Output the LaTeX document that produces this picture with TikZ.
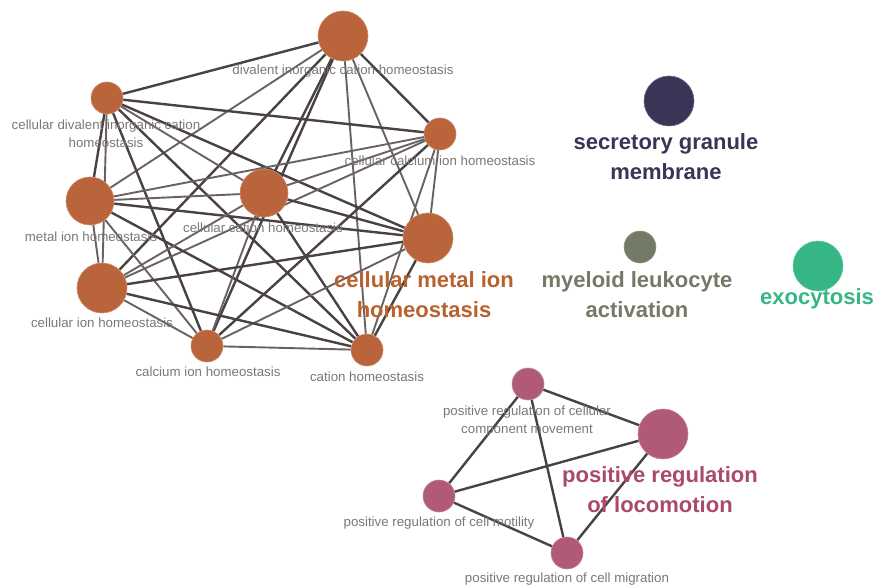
\documentclass[tikz,border=0pt]{standalone}
\usepackage{fontspec}
\setmainfont{Liberation Sans}
\usetikzlibrary{backgrounds}
\definecolor{orangeN}{HTML}{B9643A}
\definecolor{orangeT}{HTML}{B8622F}
\definecolor{navyN}{HTML}{3A3457}
\definecolor{olivN}{HTML}{737B66}
\definecolor{greenN}{HTML}{37B685}
\definecolor{pinkN}{HTML}{B05A76}
\definecolor{pinkT}{HTML}{A94A6C}
\definecolor{smallT}{HTML}{7C7777}
\definecolor{edgeDk}{HTML}{4A4242}
\definecolor{edgeLt}{HTML}{6A6262}
\tikzset{
  dot/.style={circle, inner sep=0pt, line width=0.6pt},
  big/.style={dot, minimum size=50pt},
  sml/.style={dot, minimum size=32pt},
  mid/.style={dot, minimum size=48pt},
  smalllbl/.style={text=smallT, font=\fontsize{13.3}{18}\selectfont, align=center, inner sep=0pt},
  biglbl/.style={font=\fontsize{22}{30}\selectfont\bfseries, align=center, inner sep=0pt},
  ed/.style={draw=edgeDk, line width=2.4pt},
  el/.style={draw=edgeLt, line width=1.9pt},
}
\begin{document}
\begin{tikzpicture}[x=1pt,y=-1pt]
\useasboundingbox (0,0) rectangle (878,585);
% nodes
\node[big, fill=orangeN, draw=orangeN!75!white] (A) at (343,36) {};
\node[sml, fill=orangeN, draw=orangeN!75!white] (B) at (107,98) {};
\node[sml, fill=orangeN, draw=orangeN!75!white] (C) at (440,134) {};
\node[mid, fill=orangeN, draw=orangeN!75!white] (D) at (90,201) {};
\node[mid, fill=orangeN, draw=orangeN!75!white] (E) at (264,193) {};
\node[big, fill=orangeN, draw=orangeN!75!white] (F) at (428,238) {};
\node[big, fill=orangeN, draw=orangeN!75!white] (G) at (102,288) {};
\node[sml, fill=orangeN, draw=orangeN!75!white] (H) at (207,346) {};
\node[sml, fill=orangeN, draw=orangeN!75!white] (I) at (367,350) {};
\node[big, fill=navyN, draw=navyN!75!white] (S) at (669,101) {};
\node[sml, fill=olivN, draw=olivN!75!white] (M) at (640,247) {};
\node[big, fill=greenN, draw=greenN!75!white] (X) at (818,266) {};
\node[sml, fill=pinkN, draw=pinkN!75!white] (P1) at (528,384) {};
\node[big, fill=pinkN, draw=pinkN!75!white] (P2) at (663,434) {};
\node[sml, fill=pinkN, draw=pinkN!75!white] (P3) at (439,496) {};
\node[sml, fill=pinkN, draw=pinkN!75!white] (P4) at (567,553) {};
\begin{pgfonlayer}{background}
% edges orange
\draw[ed] (A) -- (B);
\draw[ed] (A) -- (C);
\draw[el] (A) -- (D);
\draw[ed] (A) -- (E);
\draw[el] (A) -- (F);
\draw[ed] (A) -- (G);
\draw[ed] (A) -- (H);
\draw[el] (A) -- (I);
\draw[ed] (B) -- (C);
\draw[ed] (B) -- (D);
\draw[el] (B) -- (E);
\draw[ed] (B) -- (F);
\draw[el] (B) -- (G);
\draw[ed] (B) -- (H);
\draw[ed] (B) -- (I);
\draw[el] (C) -- (D);
\draw[el] (C) -- (E);
\draw[el] (C) -- (F);
\draw[el] (C) -- (G);
\draw[ed] (C) -- (H);
\draw[el] (C) -- (I);
\draw[el] (D) -- (E);
\draw[ed] (D) -- (F);
\draw[el] (D) -- (G);
\draw[el] (D) -- (H);
\draw[ed] (D) -- (I);
\draw[ed] (E) -- (F);
\draw[el] (E) -- (G);
\draw[el] (E) -- (H);
\draw[ed] (E) -- (I);
\draw[ed] (F) -- (G);
\draw[el] (F) -- (H);
\draw[ed] (F) -- (I);
\draw[el] (G) -- (H);
\draw[ed] (G) -- (I);
\draw[el] (H) -- (I);
% pink edges
\draw[ed] (P1) -- (P2);
\draw[ed] (P1) -- (P3);
\draw[ed] (P1) -- (P4);
\draw[ed] (P2) -- (P3);
\draw[ed] (P2) -- (P4);
\draw[ed] (P3) -- (P4);
\end{pgfonlayer}
% labels
\node[smalllbl] (lA) at (343,71) {divalent inorganic cation homeostasis};
\node[smalllbl] (lB) at (106,134) {cellular divalent inorganic cation\\homeostasis};
\node[smalllbl] (lC) at (440,161) {cellular calcium ion homeostasis};
\node[smalllbl] (lD) at (91,237) {metal ion homeostasis};
\node[smalllbl] (lE) at (263,228) {cellular cation homeostasis};
\node[smalllbl] (lG) at (102,323) {cellular ion homeostasis};
\node[smalllbl] (lH) at (208,372) {calcium ion homeostasis};
\node[smalllbl] (lI) at (367,377) {cation homeostasis};
\node[biglbl, text=orangeT] (lF) at (424,295) {cellular metal ion\\homeostasis};
\node[biglbl, text=navyN] (lS) at (666,157) {secretory granule\\membrane};
\node[biglbl, text=olivN] (lM) at (637,295) {myeloid leukocyte\\activation};
\node[biglbl, text=greenN] (lX) at (817,299) {exocytosis};
\node[smalllbl] (lP1) at (527,421) {positive regulation of cellular\\component movement};
\node[biglbl, text=pinkT] (lP2) at (660,490) {positive regulation\\of locomotion};
\node[smalllbl] (lP3) at (439,523) {positive regulation of cell motility};
\node[smalllbl] (lP4) at (567,579) {positive regulation of cell migration};
\end{tikzpicture}
\end{document}
